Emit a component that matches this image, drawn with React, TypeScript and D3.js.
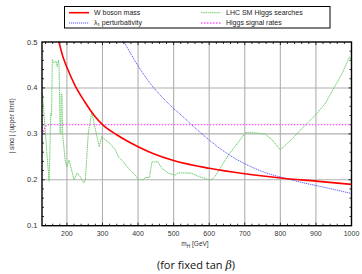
import { useRef, useEffect } from "react";
import * as d3 from "d3";

// m_H [GeV] vs |sin alpha| upper limit
const wBosonMass = [
  [176, 0.505], [190, 0.465], [200, 0.445], [223, 0.405], [250, 0.37], [279, 0.338],
  [300, 0.32], [340, 0.298], [400, 0.272], [440, 0.258], [500, 0.242], [600, 0.225],
  [700, 0.213], [800, 0.204], [900, 0.197], [1000, 0.19],
];

const lambdaPert = [
  [361, 0.5], [400, 0.448], [434, 0.41], [480, 0.37], [528, 0.336], [575, 0.303],
  [622, 0.273], [669, 0.248], [716, 0.229], [760, 0.215], [810, 0.204], [856, 0.195],
  [903, 0.187], [950, 0.179], [1000, 0.17],
];

const lhcSearches = [
  [131, 0.39], [136, 0.34], [143, 0.265], [150, 0.197], [152, 0.255], [154, 0.33],
  [155, 0.345], [157, 0.34], [159, 0.462], [163, 0.455], [166, 0.456], [170, 0.458],
  [173, 0.446], [176, 0.461], [178, 0.45], [181, 0.3], [183, 0.3], [184, 0.388],
  [186, 0.385], [188, 0.3], [195, 0.243], [200, 0.228], [206, 0.243], [220, 0.2],
  [229, 0.215], [237, 0.207], [248, 0.193], [252, 0.2], [260, 0.3], [270, 0.348],
  [280, 0.31], [291, 0.272], [298, 0.294], [307, 0.288], [321, 0.279], [336, 0.265],
  [345, 0.25], [359, 0.239], [373, 0.225], [392, 0.21], [401, 0.201], [415, 0.2],
  [420, 0.205], [432, 0.205], [439, 0.239], [456, 0.239], [467, 0.225], [486, 0.214],
  [504, 0.21], [514, 0.215], [533, 0.215], [551, 0.214], [570, 0.207], [589, 0.203],
  [598, 0.2], [608, 0.201], [617, 0.208], [631, 0.225], [654, 0.254], [683, 0.283],
  [702, 0.303], [730, 0.302], [756, 0.3], [777, 0.287], [800, 0.265], [833, 0.289],
  [870, 0.319], [899, 0.341], [927, 0.367], [955, 0.406], [974, 0.432], [992, 0.464],
  [995, 0.468], [1000, 0.457],
];

const signalRates = [[130, 0.335], [132, 0.3], [141, 0.318], [148, 0.32], [1000, 0.32]];

const xTicks = [200, 300, 400, 500, 600, 700, 800, 900, 1000];
const yTicks = [0.1, 0.2, 0.3, 0.4, 0.5];

const width = 362;
const height = 274;
const margin = { top: 42, right: 10.5, bottom: 48.3, left: 42 };
const font = "'Liberation Sans', Arial, sans-serif";
const green = "#6fcf6f";

const App = () => {
  const gRef = useRef<SVGGElement>(null);

  useEffect(() => {
    const g = d3.select(gRef.current);
    g.selectAll("*").remove();

    const x = d3.scaleLinear().domain([130, 1000]).range([margin.left, width - margin.right]);
    const y = d3.scaleLinear().domain([0.1, 0.5]).range([height - margin.bottom, margin.top]);
    const [x0, x1] = x.range();
    const [y0, y1] = y.range();

    // grid
    g.append("g")
      .selectAll("line")
      .data(xTicks.slice(0, -1))
      .join("line")
      .attr("x1", (d) => x(d)).attr("x2", (d) => x(d))
      .attr("y1", y0).attr("y2", y1)
      .attr("stroke", "#b0b0b0").attr("stroke-width", 1.1);
    g.append("g")
      .selectAll("line")
      .data(yTicks.slice(1, -1))
      .join("line")
      .attr("x1", x0).attr("x2", x1)
      .attr("y1", (d) => y(d)).attr("y2", (d) => y(d))
      .attr("stroke", "#b0b0b0").attr("stroke-width", 1.1);

    // minor ticks on all sides
    const xMinor = d3.range(140, 1000, 20);
    const yMinor = d3.range(0.12, 0.5, 0.02);
    const ticks = g.append("g").attr("stroke", "#000").attr("stroke-width", 0.8);
    xMinor.forEach((v) => {
      const len = v % 100 === 0 ? 3 : 2;
      ticks.append("line").attr("x1", x(v)).attr("x2", x(v)).attr("y1", y0).attr("y2", y0 - len);
      ticks.append("line").attr("x1", x(v)).attr("x2", x(v)).attr("y1", y1).attr("y2", y1 + len);
    });
    yMinor.forEach((v) => {
      const r = Math.abs((v * 10) % 1);
      const len = r < 0.01 || r > 0.99 ? 3 : 2;
      ticks.append("line").attr("x1", x0).attr("x2", x0 + len).attr("y1", y(v)).attr("y2", y(v));
      ticks.append("line").attr("x1", x1).attr("x2", x1 - len).attr("y1", y(v)).attr("y2", y(v));
    });

    const line = d3.line<number[]>().x((d) => x(d[0])).y((d) => y(d[1]));
    const smooth = d3.line<number[]>().x((d) => x(d[0])).y((d) => y(d[1])).curve(d3.curveMonotoneX);

    const clip = g.append("g").attr("clip-path", "url(#plotclip)");
    clip.append("path").attr("d", line(lhcSearches)).attr("fill", "none")
      .attr("stroke", green).attr("stroke-width", 1).attr("stroke-dasharray", "1.6,0.6");
    clip.append("path").attr("d", line(signalRates)).attr("fill", "none")
      .attr("stroke", "#ff55ff").attr("stroke-width", 1.4).attr("stroke-dasharray", "1.5,1.5");
    clip.append("path").attr("d", smooth(lambdaPert)).attr("fill", "none")
      .attr("stroke", "#4a4aff").attr("stroke-width", 0.9).attr("stroke-dasharray", "1.2,0.8");
    clip.append("path").attr("d", smooth(wBosonMass)).attr("fill", "none")
      .attr("stroke", "#ff0000").attr("stroke-width", 1.6);

    // frame
    g.append("rect").attr("x", x0).attr("y", y1).attr("width", x1 - x0).attr("height", y0 - y1)
      .attr("fill", "none").attr("stroke", "#000").attr("stroke-width", 1.4);

    // tick labels
    g.append("g").selectAll("text").data(xTicks).join("text")
      .attr("x", (d) => x(d)).attr("y", y0 + 10)
      .attr("text-anchor", "middle").attr("font-size", 7).attr("font-family", font).attr("fill", "#333")
      .text((d) => d);
    g.append("g").selectAll("text").data(yTicks).join("text")
      .attr("x", x0 - 4.5).attr("y", (d) => y(d) + 2.5)
      .attr("text-anchor", "end").attr("font-size", 7.5).attr("font-family", font).attr("fill", "#333")
      .text((d) => d3.format(".1f")(d));
  }, []);

  const legendItems = [
    { label: "W boson mass", color: "#ff0000", dash: "", w: 1.6, x: 69, y: 12.7 },
    { label: "λ₁ perturbativity", color: "#4a4aff", dash: "1.2,0.8", w: 0.9, x: 69, y: 23 },
    { label: "LHC SM Higgs searches", color: green, dash: "1.6,0.6", w: 1, x: 201, y: 12.7 },
    { label: "Higgs signal rates", color: "#ff55ff", dash: "1.5,1.5", w: 1.4, x: 201, y: 23 },
  ];

  return (
    <svg width={width} height={height} style={{ position: "absolute", left: 0, top: 0 }}>
      <defs>
        <clipPath id="plotclip">
          <rect x={42} y={42} width={309.5} height={183.7} />
        </clipPath>
      </defs>
      <rect x={0} y={0} width={width} height={height} fill="#fff" />
      <rect x={64.5} y={6.5} width={265.5} height={21.5} fill="#fff" stroke="#000" strokeWidth={1} />
      {legendItems.map((d) => (
        <g key={d.label}>
          <line x1={d.x} x2={d.x + 20} y1={d.y} y2={d.y} stroke={d.color} strokeWidth={d.w} strokeDasharray={d.dash} />
          <text x={d.x + 25} y={d.y + 2.4} fontSize={7} fontFamily={font} fill="#222">{d.label}</text>
        </g>
      ))}
      <g ref={gRef} />
      <text x={195} y={246} textAnchor="middle" fontSize={6.5} fontFamily={font} fill="#333">
        m<tspan fontSize={4.8} dy={1.5}>H</tspan><tspan dy={-1.5}> [GeV]</tspan>
      </text>
      <text transform="translate(14,126) rotate(-90)" textAnchor="middle" fontSize={6.5} fontFamily={font} fill="#333">
        | sinα |  (upper limit)
      </text>
      <text x={196} y={269} textAnchor="middle" fontSize={11} fontFamily="'Open Sans', sans-serif" fill="#111">
        (for fixed tan <tspan fontStyle="italic" fontWeight="normal" fontFamily="'DejaVu Serif', serif">β</tspan>)
      </text>
    </svg>
  );
};

export default App;
